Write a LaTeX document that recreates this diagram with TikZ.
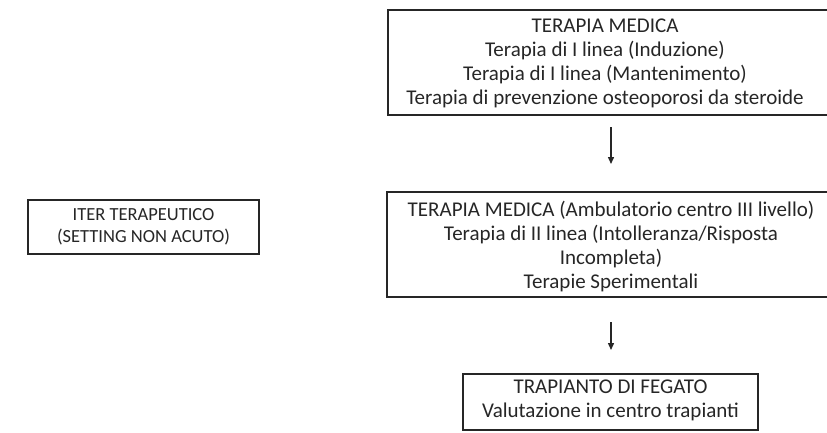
\documentclass[tikz,border=0pt]{standalone}
\usepackage{fontspec}
\setmainfont{Carlito}
\usetikzlibrary{arrows.meta}
\definecolor{ink}{gray}{0.15}
\tikzset{
  txt/.style={align=center, font=\fontsize{21}{24}\selectfont, text=ink, inner sep=0pt},
  sidetxt/.style={txt, font=\fontsize{18.5}{22.5}\selectfont},
  frame/.style={draw=ink, line width=1.6pt},
  flow/.style={draw=ink, line width=1.4pt, -{Triangle[length=7pt,width=6pt]}}
}
\begin{document}
\begin{tikzpicture}[x=1pt,y=-1pt]
  \useasboundingbox (0,0) rectangle (827,432);
  % frames (the two upper ones run past the right margin)
  \begin{scope}
    \clip (0,0) rectangle (827,432);
    \draw[frame] (388,10) rectangle (845,115);
    \draw[frame] (387,192) rectangle (845,297);
  \end{scope}
  \draw[frame] (463,374) rectangle (758,430);
  \draw[frame] (28,200) rectangle (259,254);

  \node[sidetxt] (iter) at (143.5,227) {ITER TERAPEUTICO\\(SETTING NON ACUTO)};
  \node[txt] (top) at (605,63) {TERAPIA MEDICA\\Terapia di I linea (Induzione)\\Terapia di I linea (Mantenimento)\\Terapia di prevenzione osteoporosi da steroide};
  \node[txt] (mid) at (611,247) {TERAPIA MEDICA (Ambulatorio centro III livello)\\Terapia di II linea (Intolleranza/Risposta\\Incompleta)\\Terapie Sperimentali};
  \node[txt] (bot) at (610.5,400) {TRAPIANTO DI FEGATO\\Valutazione in centro trapianti};

  \coordinate (a1s) at (611,127);
  \coordinate (a1e) at (611,164);
  \coordinate (a2s) at (611,322);
  \coordinate (a2e) at (611,350);
  \draw[flow] (a1s) -- (a1e);
  \draw[flow] (a2s) -- (a2e);
\end{tikzpicture}
\end{document}
